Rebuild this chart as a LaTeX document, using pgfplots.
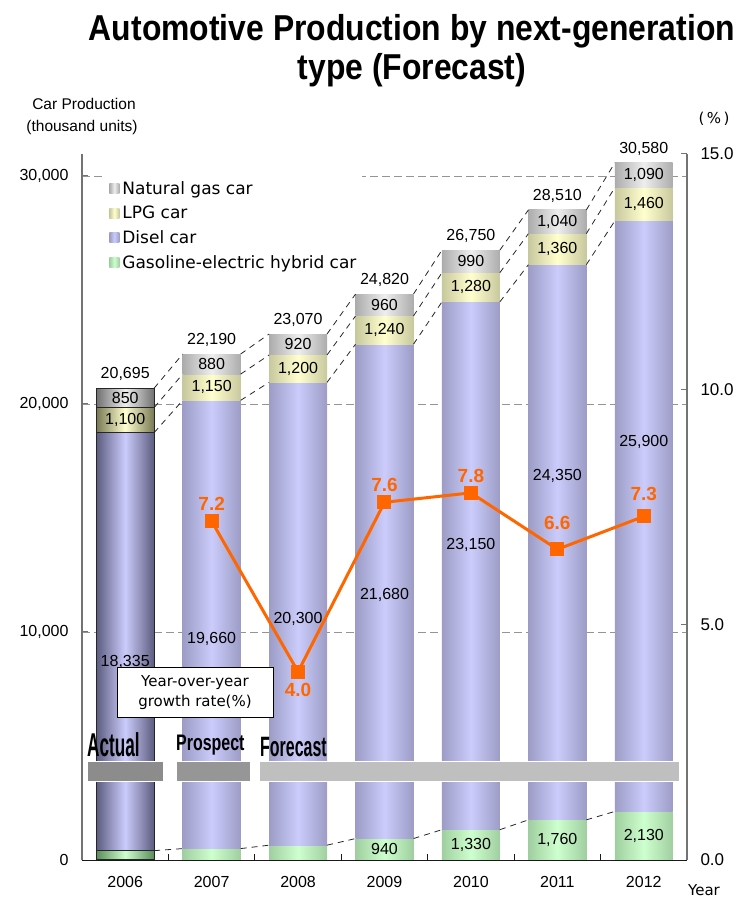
\documentclass[border=0pt]{standalone}
\usepackage{pgfplots}
\pgfplotsset{compat=1.18}
\usepackage{pgfplotstable}
\usepackage{fontspec}
\setmainfont{Liberation Sans}
\newfontfamily\dejavu{DejaVu Sans}

\definecolor{dslC}{RGB}{204,204,252}
\definecolor{dslE}{RGB}{156,156,198}
\definecolor{lpgC}{RGB}{255,255,206}
\definecolor{lpgE}{RGB}{200,200,158}
\definecolor{gasC}{RGB}{238,238,238}
\definecolor{gasE}{RGB}{172,172,172}
\definecolor{hybC}{RGB}{206,255,206}
\definecolor{hybE}{RGB}{160,206,160}
\definecolor{dslD}{RGB}{92,92,128}
\definecolor{lpgD}{RGB}{120,120,84}
\definecolor{gasD}{RGB}{112,112,112}
\definecolor{hybD}{RGB}{90,140,90}
\definecolor{orng}{RGB}{255,102,0}

\pgfkeys{/pgf/number format/.cd,1000 sep={,},assume math mode=true}

\tikzset{
 hyb/.style={draw=none,left color=hybE,right color=hybE,middle color=hybC},
 dsl/.style={draw=none,left color=dslE,right color=dslE,middle color=dslC},
 lpg/.style={draw=none,left color=lpgE,right color=lpgE,middle color=lpgC},
 gas/.style={draw=none,left color=gasE,right color=gasE,middle color=gasC},
 hybA/.style={draw=black!85,line width=1.2pt,left color=hybD,right color=hybD,middle color=hybC},
 dslA/.style={draw=black!85,line width=1.2pt,left color=dslD,right color=dslD,middle color=dslC},
 lpgA/.style={draw=black!85,line width=1.2pt,left color=lpgD,right color=lpgD,middle color=lpgC},
 gasA/.style={draw=black!85,line width=1.2pt,left color=gasD,right color=gasD,middle color=gasC},
 conn/.style={black!85,line width=0.8pt,dash pattern=on 6pt off 5pt},
 vlab/.style={font=\fontsize{16}{18}\selectfont,text=black,inner sep=0pt},
}

% production (thousand units); dlab = height at which the diesel value is written
\pgfplotstableread{
idx year hybrid diesel lpg gas dlab
0 2006 410 18335 1100 850 8680
1 2007 500 19660 1150 880 9690
2 2008 650 20300 1200 920 10570
3 2009 940 21680 1240 960 11620
4 2010 1330 23150 1280 990 13810
5 2011 1760 24350 1360 1040 16840
6 2012 2130 25900 1460 1090 18330
}\prodtable

% year-over-year growth rate (%)
\pgfplotstableread{
x y
1 7.2
2 4.0
3 7.6
4 7.8
5 6.6
6 7.3
}\growth

\newcommand\getv[3]{\pgfplotstablegetelem{#1}{#2}\of\prodtable\edef#3{\pgfplotsretval}}

\newcommand\drawbar[2]{%
 \getv{#1}{hybrid}\vh\getv{#1}{diesel}\vd\getv{#1}{lpg}\vl\getv{#1}{gas}\vg\getv{#1}{dlab}\vdl
 \edef\ya{\the\numexpr\vh\relax}%
 \edef\yb{\the\numexpr\ya+\vd\relax}%
 \edef\yc{\the\numexpr\yb+\vl\relax}%
 \edef\yd{\the\numexpr\yc+\vg\relax}%
 \expandafter\xdef\csname cumA#1\endcsname{\ya}%
 \expandafter\xdef\csname cumB#1\endcsname{\yb}%
 \expandafter\xdef\csname cumC#1\endcsname{\yc}%
 \expandafter\xdef\csname cumD#1\endcsname{\yd}%
 \pgfmathsetmacro\xl{#1-0.335}\pgfmathsetmacro\xr{#1+0.335}%
 \edef\tmp{%
  \noexpand\addplot[hyb#2] coordinates {(\xl,0) (\xr,0) (\xr,\ya) (\xl,\ya) (\xl,0)};
  \noexpand\addplot[dsl#2] coordinates {(\xl,\ya) (\xr,\ya) (\xr,\yb) (\xl,\yb) (\xl,\ya)};
  \noexpand\addplot[lpg#2] coordinates {(\xl,\yb) (\xr,\yb) (\xr,\yc) (\xl,\yc) (\xl,\yb)};
  \noexpand\addplot[gas#2] coordinates {(\xl,\yc) (\xr,\yc) (\xr,\yd) (\xl,\yd) (\xl,\yc)};
  \noexpand\node[vlab] at (axis cs:#1,\the\numexpr(\yb+\yc)/2\relax) {\noexpand\pgfmathprintnumber{\vl}};
  \noexpand\node[vlab] at (axis cs:#1,\the\numexpr(\yc+\yd)/2\relax) {\noexpand\pgfmathprintnumber{\vg}};
  \noexpand\node[vlab] at (axis cs:#1,\vdl) {\noexpand\pgfmathprintnumber{\vd}};
  \noexpand\node[vlab,anchor=base,yshift=9.5pt] at (axis cs:#1,\yd) {\noexpand\pgfmathprintnumber{\yd}};
 }\tmp
 \ifnum#1>2 \edef\tmp{\noexpand\node[vlab] at (axis cs:#1,\the\numexpr\ya/2\relax) {\noexpand\pgfmathprintnumber{\vh}};}\tmp\fi
}

\newcommand\drawconn[2]{%
 \pgfmathsetmacro\xl{#1+0.335}\pgfmathsetmacro\xr{#2-0.335}%
 \edef\tmp{%
  \noexpand\addplot[conn] coordinates {(\xl,\csname cumA#1\endcsname) (\xr,\csname cumA#2\endcsname)};
  \noexpand\addplot[conn] coordinates {(\xl,\csname cumB#1\endcsname) (\xr,\csname cumB#2\endcsname)};
  \noexpand\addplot[conn] coordinates {(\xl,\csname cumC#1\endcsname) (\xr,\csname cumC#2\endcsname)};
  \noexpand\addplot[conn] coordinates {(\xl,\csname cumD#1\endcsname) (\xr,\csname cumD#2\endcsname)};
 }\tmp
}

\pgfplotsset{
 glab/.style={draw=none,mark=none,
  nodes near coords={\pgfmathprintnumber[fixed,fixed zerofill,precision=1,assume math mode=true]{\pgfplotspointmeta}},
  point meta=y,
  every node near coord/.append style={font=\bfseries\fontsize{19}{21}\selectfont,text=orng,anchor=center,yshift=#1}},
}

\begin{document}
\begin{tikzpicture}
\useasboundingbox (0,0) rectangle (742pt,898pt);

% title and outer labels
\node[anchor=base,font=\bfseries\fontsize{36}{40}\selectfont] at (412pt,857pt) {\scalebox{0.885}[1]{Automotive Production by next-generation}};
\node[anchor=base,font=\bfseries\fontsize{36}{40}\selectfont] at (412pt,818pt) {\scalebox{0.885}[1]{type (Forecast)}};
\node[font=\fontsize{15.5}{18}\selectfont] at (84pt,794pt) {Car Production};
\node[font=\fontsize{15.5}{18}\selectfont] at (82pt,771pt) {(thousand units)};
\node[font=\dejavu\fontsize{15}{18}\selectfont] at (714pt,779pt) {(\,\%\,)};
\node[font=\dejavu\fontsize{15}{18}\selectfont] at (704pt,8pt) {Year};

\begin{axis}[
  at={(82pt,38pt)}, anchor=south west, scale only axis,
  width=605pt, height=706pt,
  xmin=-0.5, xmax=6.5, ymin=0, ymax=30965,
  axis x line*=bottom, axis y line*=left,
  x axis line style={black!90,line width=1pt},
  y axis line style={black!55,line width=1.2pt},
  xtick={0,1,2,3,4,5,6},
  xticklabels={2006,2007,2008,2009,2010,2011,2012},
  xtick style={draw=none},
  xticklabel style={font=\fontsize{16}{18}\selectfont,yshift=-13pt},
  ytick={0,10000,20000,30000},
  ytick style={black!55,line width=1pt},
  yticklabel style={font=\fontsize{16}{18}\selectfont,xshift=-10pt},
  scaled y ticks=false,
  tick align=inside, major tick length=6pt,
  ymajorgrids, grid style={black!42,line width=0.8pt,dash pattern=on 8pt off 4pt},
  /pgf/number format/1000 sep={,},
  /pgf/number format/assume math mode=true,
  clip=false,
  legend image code/.code={\path[#1] (0pt,-5pt) rectangle (10pt,5pt);},
  legend cell align=left,
  legend style={at={(0.04,0.972)},anchor=north west,fill=white,draw=none,
    font=\dejavu\fontsize{17}{19}\selectfont,inner xsep=3pt,inner ysep=2pt,
    nodes={inner ysep=0pt,inner xsep=3pt,minimum height=24.7pt}},
]
\addlegendimage{gas}\addlegendentry{Natural gas car}
\addlegendimage{lpg}\addlegendentry{LPG car}
\addlegendimage{dsl}\addlegendentry{Disel car}
\addlegendimage{hyb}\addlegendentry{Gasoline-electric hybrid car}

\drawbar{0}{A}
\drawbar{1}{}
\drawbar{2}{}
\drawbar{3}{}
\drawbar{4}{}
\drawbar{5}{}
\drawbar{6}{}
\drawconn{0}{1}
\drawconn{1}{2}
\drawconn{2}{3}
\drawconn{3}{4}
\drawconn{4}{5}
\drawconn{5}{6}
\end{axis}

\begin{axis}[
  at={(82pt,38pt)}, anchor=south west, scale only axis,
  width=605pt, height=706pt,
  xmin=-0.5, xmax=6.5, ymin=0, ymax=15,
  axis x line*=bottom, axis y line*=right,
  x axis line style={black!90,line width=1pt},
  y axis line style={black!55,line width=1.2pt},
  xtick={0.5,1.5,2.5,3.5,4.5,5.5}, xticklabels={},
  xtick style={black!90,line width=1pt},
  ytick={0,5,10,15},
  ytick style={black!55,line width=1pt},
  yticklabel style={font=\fontsize{17}{19}\selectfont,xshift=10pt,
    /pgf/number format/fixed,/pgf/number format/fixed zerofill,/pgf/number format/precision=1},
  /pgf/number format/assume math mode=true,
  tick align=inside, major tick length=6pt,
  clip=false,
]
\addplot[orng,line width=3pt,mark=square*,mark size=6.5pt,
  mark options={solid,fill=orng,draw=orng,line width=0pt}] table[x=x,y=y] {\growth};
\addplot[glab=17pt] coordinates {(1,7.2) (3,7.6) (4,7.8)};
\addplot[glab=-18pt] coordinates {(2,4.0)};
\addplot[glab=26pt] coordinates {(5,6.6)};
\addplot[glab=22pt] coordinates {(6,7.3)};
\end{axis}

% annotations
\node[draw=black,line width=1pt,fill=white,minimum width=156pt,minimum height=50pt,align=center,
  inner sep=0pt,font=\dejavu\fontsize{15}{20}\selectfont] at (195pt,205pt) {Year-over-year\\growth rate(\%)};
\fill[black!45,draw=white,line width=0.8pt] (87pt,117pt) rectangle (163pt,137pt);
\fill[black!41,draw=white,line width=0.8pt] (176pt,117pt) rectangle (250pt,137pt);
\fill[black!25,draw=white,line width=0.8pt] (259pt,117pt) rectangle (679pt,137pt);
\node[anchor=base west,inner sep=0pt,font=\bfseries\fontsize{33}{36}\selectfont] at (87pt,141pt) {\scalebox{0.52}[1]{Actual}};
\node[anchor=base west,inner sep=0pt,font=\bfseries\fontsize{22.5}{26}\selectfont] at (176pt,147pt) {\scalebox{0.71}[1]{Prospect}};
\node[anchor=base west,inner sep=0pt,font=\bfseries\fontsize{28}{32}\selectfont] at (260pt,141pt) {\scalebox{0.57}[1]{Forecast}};
\end{tikzpicture}
\end{document}
